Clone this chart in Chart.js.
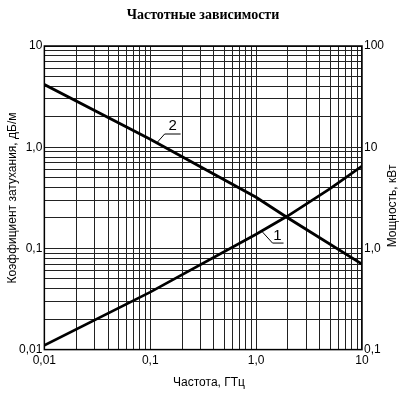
<!DOCTYPE html>
<html>
<head>
<meta charset="utf-8">
<script src="https://cdn.jsdelivr.net/npm/chart.js@4/dist/chart.umd.min.js"></script>
<style>
html,body{margin:0;padding:0;background:#fff;}
#wrap{position:relative;width:405px;height:395px;}
</style>
</head>
<body>
<div id="wrap"><canvas id="c" width="405" height="395"></canvas></div>
<script>
// Frequency, GHz
const freq1 = [0.01, 0.1, 1, 2, 5, 10];
// Curve 1: attenuation coefficient, dB/m (left axis)
const atten = [0.011, 0.037, 0.138, 0.21, 0.39, 0.65];
const freq2 = [0.01, 0.1, 1, 2, 10];
// Curve 2: power, kW (right axis)
const power = [41.5, 12, 3.2, 2.0, 0.7];

const xTicks = [0.01,0.02,0.03,0.04,0.05,0.06,0.07,0.08,0.09,0.1,0.2,0.3,0.4,0.5,0.6,0.7,0.8,0.9,1,2,3,4,5,6,7,8,9,10];
const xTickLabels = {0.01:'0,01', 0.1:'0,1', 1:'1,0', 10:'10'};
const yTicks = [0.01,0.02,0.03,0.04,0.05,0.06,0.07,0.08,0.09,0.1,0.2,0.3,0.4,0.5,0.6,0.7,0.8,0.9,1,2,3,4,5,6,7,8,9,10];
const yTickLabels = {0.01:'0,01', 0.1:'0,1', 1:'1,0', 10:'10'};
const y2Ticks = [0.1, 1, 10, 100];
const y2TickLabels = {0.1:'0,1', 1:'1,0', 10:'10', 100:'100'};

const titleText = 'Частотные зависимости';
const xTitle = 'Частота, ГТц';
const yTitle = 'Коэффициент затухания, дБ/м';
const y2Title = 'Мощность, кВт';

const tickFont = {family: 'Liberation Sans, Arial, sans-serif', size: 12};

function setTicks(list){ return function(scale){ scale.ticks = list.map(v => ({value: v})); }; }
function labelFrom(map){ return function(v){ const k = Object.keys(map).find(key => Math.abs(+key - v) < 1e-9 * Math.max(1, v)); return k !== undefined ? map[k] : ''; }; }

const decorPlugin = {
  id: 'decor',
  afterDraw(chart){
    const ctx = chart.ctx, a = chart.chartArea;
    const xs = chart.scales.x, ys = chart.scales.y, y2 = chart.scales.y2;
    ctx.save();
    // frame
    ctx.strokeStyle = '#000'; ctx.lineWidth = 1.5;
    ctx.strokeRect(a.left, a.top, a.right - a.left, a.bottom - a.top);
    // titles
    ctx.fillStyle = '#000';
    ctx.textAlign = 'center'; ctx.textBaseline = 'middle';
    ctx.font = 'bold 14px "Liberation Serif", "DejaVu Serif", serif';
    ctx.fillText(titleText, 203, 15);
    ctx.font = '12px "Liberation Sans", Arial, sans-serif';
    ctx.fillText(xTitle, 209, 383);
    ctx.save(); ctx.translate(13, 198); ctx.rotate(-Math.PI/2); ctx.fillText(yTitle, 0, 0); ctx.restore();
    ctx.save(); ctx.translate(393, 206); ctx.rotate(-Math.PI/2); ctx.fillText(y2Title, 0, 0); ctx.restore();
    // curve labels with leaders
    ctx.lineWidth = 1; ctx.strokeStyle = '#000';
    ctx.font = '15px "Liberation Sans", Arial, sans-serif';
    // label 2
    let px = xs.getPixelForValue(0.115), py = y2.getPixelForValue(11);
    ctx.beginPath(); ctx.moveTo(px, py); ctx.lineTo(px + 8, py - 9); ctx.lineTo(px + 24, py - 9); ctx.stroke();
    ctx.fillText('2', px + 16, py - 17);
    // label 1
    px = xs.getPixelForValue(1.15); py = ys.getPixelForValue(0.145);
    ctx.beginPath(); ctx.moveTo(px, py); ctx.lineTo(px + 10, py + 11); ctx.lineTo(px + 21, py + 11); ctx.stroke();
    ctx.fillText('1', px + 15, py + 4);
    ctx.restore();
  }
};

new Chart(document.getElementById('c'), {
  type: 'line',
  data: {
    datasets: [
      {label: '1', data: freq1.map((f, i) => ({x: f, y: atten[i]})), yAxisID: 'y', borderColor: '#000', borderWidth: 2.7, pointRadius: 0, tension: 0, fill: false},
      {label: '2', data: freq2.map((f, i) => ({x: f, y: power[i]})), yAxisID: 'y2', borderColor: '#000', borderWidth: 2.9, pointRadius: 0, tension: 0, fill: false}
    ]
  },
  options: {
    responsive: false,
    animation: false,
    layout: {padding: {left: 17, right: 19, top: 46, bottom: 23}},
    plugins: {legend: {display: false}, tooltip: {enabled: false}, title: {display: false}},
    scales: {
      x: {type: 'logarithmic', min: 0.01, max: 10, afterBuildTicks: setTicks(xTicks),
          grid: {color: '#222', lineWidth: 1, drawTicks: false},
          border: {display: false},
          ticks: {autoSkip: false, maxRotation: 0, padding: 4, color: '#000', font: tickFont, callback: labelFrom(xTickLabels)}},
      y: {type: 'logarithmic', position: 'left', min: 0.01, max: 10, afterBuildTicks: setTicks(yTicks),
          grid: {color: '#222', lineWidth: 1, drawTicks: false},
          border: {display: false},
          ticks: {autoSkip: false, padding: 2, color: '#000', font: tickFont, callback: labelFrom(yTickLabels)}},
      y2: {type: 'logarithmic', position: 'right', min: 0.1, max: 100, afterBuildTicks: setTicks(y2Ticks),
          grid: {display: false, drawTicks: false},
          border: {display: false},
          ticks: {autoSkip: false, padding: 2, color: '#000', font: tickFont, callback: labelFrom(y2TickLabels)}}
    }
  },
  plugins: [decorPlugin]
});
</script>
</body>
</html>
